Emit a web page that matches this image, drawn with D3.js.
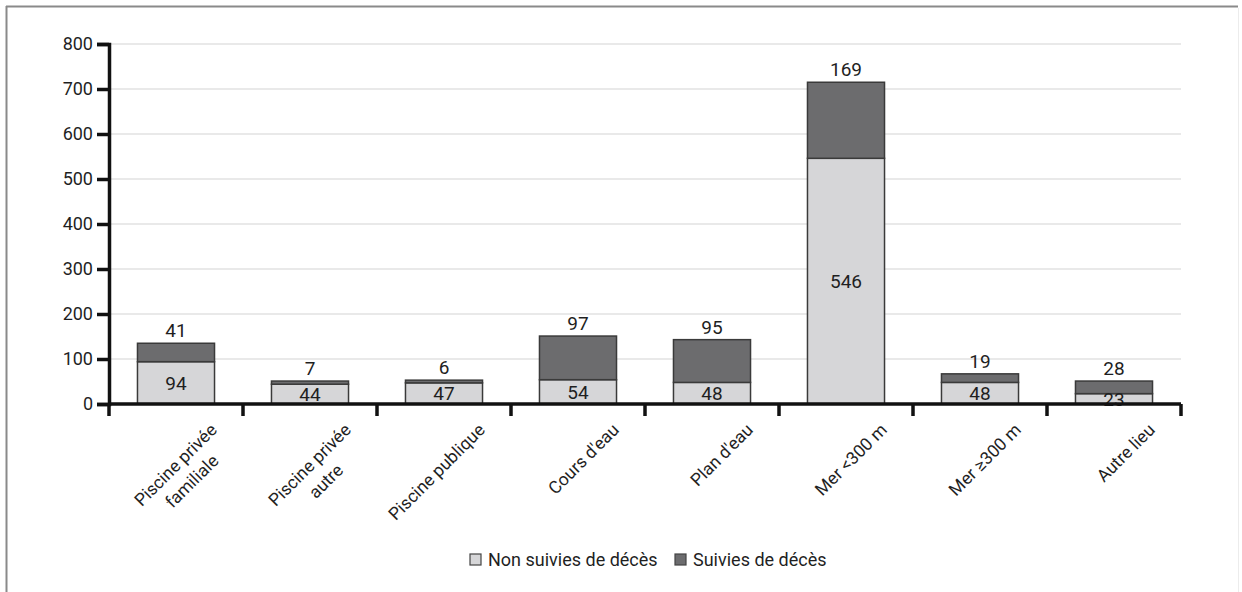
<!DOCTYPE html>
<html>
<head>
<meta charset="utf-8">
<script src="https://cdn.jsdelivr.net/npm/d3@7"></script>
<style>
  html, body { margin: 0; padding: 0; background: #fff; }
  svg { display: block; }
  text { font-family: Roboto, "DejaVu Sans Condensed", sans-serif; font-weight: 400; fill: #1f1f1f; }
</style>
</head>
<body>
<svg id="chart" width="1242" height="592"></svg>
<script>
// Noyades par lieu : non suivies / suivies de décès
const categories = [
  ["Piscine privée", "familiale"],
  ["Piscine privée", "autre"],
  ["Piscine publique"],
  ["Cours d'eau"],
  ["Plan d'eau"],
  ["Mer <300 m"],
  ["Mer ≥300 m"],
  ["Autre lieu"]
];
const nonSuivies = [94, 44, 47, 54, 48, 546, 48, 23];
const suivies = [41, 7, 6, 97, 95, 169, 19, 28];
const seriesNames = ["Non suivies de décès", "Suivies de décès"];
const yTicks = [0, 100, 200, 300, 400, 500, 600, 700, 800];

const colors = ["#d6d6d8", "#6c6c6e"];

const svg = d3.select("#chart");
const W = 1242, H = 592;

// Cadre
svg.append("line").attr("x1", 6).attr("x2", 1238).attr("y1", 6.5).attr("y2", 6.5)
  .attr("stroke", "#8a8a8a").attr("stroke-width", 2);
svg.append("line").attr("x1", 6.5).attr("x2", 6.5).attr("y1", 6).attr("y2", H)
  .attr("stroke", "#8a8a8a").attr("stroke-width", 2);
svg.append("line").attr("x1", 1238.5).attr("x2", 1238.5).attr("y1", 8).attr("y2", H)
  .attr("stroke", "#ececec").attr("stroke-width", 1);

const plotLeft = 109, plotRight = 1181, plotTop = 44, plotBottom = 404;

const x = d3.scaleBand()
  .domain(d3.range(categories.length))
  .range([plotLeft, plotRight])
  .paddingInner(0.425)
  .paddingOuter(0.2125);

const y = d3.scaleLinear().domain([0, 800]).range([plotBottom, plotTop]);

// Quadrillage
svg.append("g").selectAll("line").data(yTicks.filter(d => d > 0)).join("line")
  .attr("x1", plotLeft).attr("x2", plotRight)
  .attr("y1", d => y(d)).attr("y2", d => y(d))
  .attr("stroke", "#e2e2e2").attr("stroke-width", 1.5);

// Barres empilées
const stacked = categories.map((c, i) => ({ i, a: nonSuivies[i], b: suivies[i] }));

const bars = svg.append("g");
bars.selectAll("rect.a").data(stacked).join("rect")
  .attr("class", "a")
  .attr("x", d => x(d.i)).attr("width", x.bandwidth())
  .attr("y", d => y(d.a)).attr("height", d => y(0) - y(d.a))
  .attr("fill", colors[0]).attr("stroke", "#3a3a3a").attr("stroke-width", 1.5);
bars.selectAll("rect.b").data(stacked).join("rect")
  .attr("class", "b")
  .attr("x", d => x(d.i)).attr("width", x.bandwidth())
  .attr("y", d => y(d.a + d.b)).attr("height", d => y(d.a) - y(d.a + d.b))
  .attr("fill", colors[1]).attr("stroke", "#3a3a3a").attr("stroke-width", 1.5);

// Étiquettes de valeurs
const labels = svg.append("g").attr("font-size", 19).attr("text-anchor", "middle");
labels.selectAll("text.a").data(stacked).join("text")
  .attr("x", d => x(d.i) + x.bandwidth() / 2)
  .attr("y", d => (y(0) + y(d.a)) / 2)
  .attr("dy", "0.36em")
  .text(d => d.a);
labels.selectAll("text.b").data(stacked).join("text")
  .attr("x", d => x(d.i) + x.bandwidth() / 2)
  .attr("y", d => y(d.a + d.b) - 6)
  .text(d => d.b);

// Axe Y
const yAxis = d3.axisLeft(y).tickValues(yTicks).tickSize(12).tickPadding(4);
const gy = svg.append("g").attr("transform", `translate(${plotLeft},0)`).call(yAxis);
gy.select(".domain").attr("stroke", "#111").attr("stroke-width", 3.5);
gy.selectAll(".tick line").attr("stroke", "#111").attr("stroke-width", 3.5);
gy.selectAll(".tick text").attr("font-size", 18).attr("font-family", null).attr("fill", "#1f1f1f");

// Axe X : traits aux limites des catégories
const xBounds = d3.range(categories.length + 1).map(i => plotLeft + i * x.step());
const gx = svg.append("g");
gx.append("line").attr("x1", plotLeft).attr("x2", plotRight).attr("y1", plotBottom).attr("y2", plotBottom)
  .attr("stroke", "#111").attr("stroke-width", 3.5);
gx.selectAll("line.t").data(xBounds).join("line").attr("class", "t")
  .attr("x1", d => d).attr("x2", d => d)
  .attr("y1", plotBottom).attr("y2", plotBottom + 12)
  .attr("stroke", "#111").attr("stroke-width", 3.5);

// Libellés des catégories, inclinés à 45°
const lh = 23;
categories.forEach((lines, i) => {
  const cx = x(i) + x.bandwidth() / 2;
  const g = svg.append("g")
    .attr("transform", `translate(${cx + 42},${plotBottom + 27}) rotate(-45)`)
    .attr("font-size", 17.5);
  const tmp = g.append("text").text(lines[0]);
  const wMax = d3.max(lines, l => { tmp.text(l); return tmp.node().getComputedTextLength(); });
  tmp.remove();
  lines.forEach((l, j) => {
    g.append("text")
      .attr("x", -wMax / 2)
      .attr("y", j * lh)
      .attr("text-anchor", "middle")
      .text(l);
  });
});

// Légende
const legend = svg.append("g").attr("font-size", 18);
const items = [
  { name: seriesNames[0], color: colors[0], x: 470 },
  { name: seriesNames[1], color: colors[1], x: 675 }
];
items.forEach(it => {
  legend.append("rect").attr("x", it.x).attr("y", 554).attr("width", 11).attr("height", 11)
    .attr("fill", it.color).attr("stroke", "#444").attr("stroke-width", 1.2);
  legend.append("text").attr("x", it.x + 18).attr("y", 566).text(it.name);
});
</script>
</body>
</html>
